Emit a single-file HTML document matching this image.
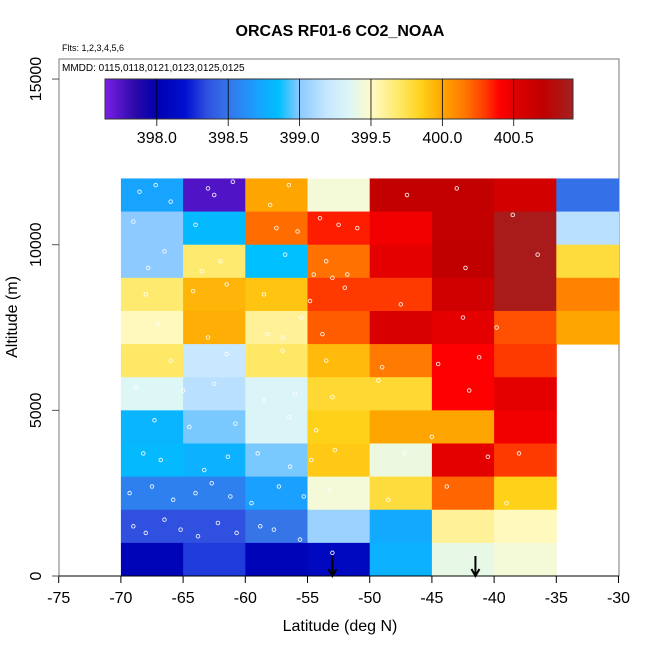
<!DOCTYPE html>
<html><head><meta charset="utf-8"><style>
html,body{margin:0;padding:0;background:#fff;}
svg{display:block;font-family:"Liberation Sans",sans-serif;}
</style></head><body>
<svg id="chart" width="650" height="650" viewBox="0 0 650 650">
<text x="340" y="36" text-anchor="middle" font-size="16" font-weight="bold">ORCAS RF01-6 CO2_NOAA</text>
<text x="62" y="51" font-size="9">Flts: 1,2,3,4,5,6</text>
<rect x="59" y="59" width="560" height="517" fill="none" stroke="#777" stroke-width="1"/>
<text x="62" y="71" font-size="10">MMDD: 0115,0118,0121,0123,0125,0125</text>
<g id="cells"></g>
<g id="points"></g>
<g id="arrows"></g>
<g id="colorbar"></g>
<g id="xaxis"></g>
<g id="yaxis"></g>
<text x="340" y="631" text-anchor="middle" font-size="16">Latitude (deg N)</text>
<text transform="translate(17,317) rotate(-90)" text-anchor="middle" font-size="16">Altitude (m)</text>
</svg>
<script>
const latEdges = [-70,-65,-60,-55,-50,-45,-40,-35,-30];
const altEdgesTop = [12000,11000,10000,9000,8000,7000,6000,5000,4000,3000,2000,1000];
const co2Rows = [
 [398.72,397.75,400.0,399.45,400.68,400.68,400.58,398.48],
 [399.0,398.82,400.18,400.35,400.45,400.68,400.88,399.15],
 [399.0,399.68,398.85,400.17,400.5,400.7,400.88,399.78],
 [399.68,399.95,399.9,400.3,400.3,400.6,400.88,400.12],
 [399.52,399.97,399.6,400.22,400.55,400.5,400.25,400.0],
 [399.7,399.2,399.7,399.93,400.15,400.4,400.3,null],
 [399.35,399.15,399.33,399.8,399.8,400.4,400.5,null],
 [398.8,398.98,399.33,399.85,400.0,400.0,400.45,null],
 [398.82,398.78,398.98,399.88,399.42,400.5,400.3,null],
 [398.55,398.55,398.7,399.45,399.78,400.2,399.85,null],
 [398.35,398.35,398.5,399.05,398.75,399.6,399.52,null],
 [398.05,398.3,398.05,398.1,398.78,399.4,399.45,null]
];
const xTicks = [-75,-70,-65,-60,-55,-50,-45,-40,-35,-30];
const yTicks = [0,5000,10000,15000];
const cbTicks = [398.0,398.5,399.0,399.5,400.0,400.5];
const cbMin = 397.637, cbMax = 400.915;
const arrowLats = [-53,-41.5];
const ptLat = [-68.5,-67.2,-66,-69,-64,-62.5,-61,-63,-58,-56.5,-57.5,-55.8,-54,-52.5,-51,-53.5,-47,-43,-38.5,-66.5,-67.8,-62,-63.5,-56.8,-54.5,-53,-51.8,-42.3,-36.5,-68,-64.2,-61.5,-58.5,-54.8,-52,-47.5,-42.5,-39.8,-67,-63,-58.2,-57,-55.5,-53.8,-66,-61.5,-57,-53.5,-49,-44.5,-41.2,-68.8,-65,-62.5,-58.5,-56,-53,-49.3,-42,-67.3,-64.5,-60.8,-56.5,-54.3,-45,-38,-68.2,-66.8,-63.3,-61.4,-59,-56.4,-54.7,-52.8,-47.2,-40.5,-69.3,-67.5,-65.8,-64,-62.7,-61.2,-59.5,-57.3,-55.3,-53.2,-48.5,-43.8,-39,-69,-68,-66.5,-65.2,-63.8,-62.2,-60.7,-58.8,-57.7,-55.6,-53];
const ptAlt = [11600,11800,11300,10700,10600,11500,11900,11700,11200,11800,10500,10400,10800,10600,10500,9500,11500,11700,10900,9800,9300,9500,9200,9700,9100,9000,9100,9300,9700,8500,8600,8800,8500,8300,8700,8200,7800,7500,7600,7200,7300,7200,7800,7300,6500,6700,6800,6500,6300,6400,6600,5700,5600,5800,5300,5500,5400,5900,5600,4700,4500,4600,4800,4400,4200,3700,3700,3500,3200,3600,3700,3300,3500,3800,3700,3600,2500,2700,2300,2500,2800,2400,2200,2700,2400,2600,2300,2700,2200,1500,1300,1700,1400,1200,1600,1300,1500,1400,1100,700];
const X = v => 58.7 + (v + 75) * 12.44;
const Y = v => 576 - v * 0.03313;
const NS = 'http://www.w3.org/2000/svg';
function mk(tag, attrs, parent){const e=document.createElementNS(NS,tag);for(const k in attrs)e.setAttribute(k,attrs[k]);parent.appendChild(e);return e;}
const palVals = [397.64,397.85,398.0,398.2,398.35,398.5,398.7,398.85,399.0,399.2,399.35,399.5,399.7,399.85,400.0,400.15,400.3,400.4,400.55,400.7,400.91];
const palCols = ['#7a1fe6','#2a0aa8','#0000b0','#0010d0','#3050e0','#3575e8','#1aa0ff','#00bfff','#8ccaff','#c8e8ff','#ddf6f6','#fffbc8','#ffe866','#ffd21a','#ffa500','#ff7a00','#ff3a00','#ff0000','#d80000','#c00000','#a52020'];
function hex(c){return [1,3,5].map(i=>parseInt(c.substr(i,2),16));}
function colorOf(v){
  if(v<=palVals[0])return palCols[0];
  for(let i=1;i<palVals.length;i++){
    if(v<=palVals[i]){const t=(v-palVals[i-1])/(palVals[i]-palVals[i-1]);const a=hex(palCols[i-1]),b=hex(palCols[i]);
      return 'rgb('+a.map((x,j)=>Math.round(x+(b[j]-x)*t)).join(',')+')';}
  }
  return palCols[palCols.length-1];
}
const cells=document.getElementById('cells');
co2Rows.forEach((row,r)=>{row.forEach((v,c)=>{ if(v===null)return;
  const x0=X(latEdges[c]),x1=X(latEdges[c+1]),y0=Y(altEdgesTop[r]),y1=Y(altEdgesTop[r]-1000);
  const el=mk('rect',{x:x0,y:y0,width:x1-x0+0.5,height:y1-y0+0.5,fill:colorOf(v)},cells);
  
  
});});
const pts=document.getElementById('points');
ptLat.forEach((la,i)=>{
  const el=mk('circle',{cx:X(la),cy:Y(ptAlt[i]),r:1.8,fill:'none',stroke:'#fff','stroke-width':0.9,opacity:0.9},pts);
  
  
});
const arr=document.getElementById('arrows');
arrowLats.forEach(la=>{
  const g=mk('g',{stroke:'#000','stroke-width':2,fill:'none'},arr);
  
  
  mk('line',{x1:X(la),y1:556,x2:X(la),y2:576},g);
  mk('polyline',{points:(X(la)-4)+',569 '+X(la)+',576 '+(X(la)+4)+',569'},g);
});
// colorbar
const cb=document.getElementById('colorbar');
const cbX0=105,cbX1=573,cbY0=79,cbY1=119;
const CX=v=>cbX0+(v-cbMin)/(cbMax-cbMin)*(cbX1-cbX0);
const defs=mk('defs',{},cb);
const lg=mk('linearGradient',{id:'cbgrad',x1:0,x2:1,y1:0,y2:0},defs);
palVals.forEach((v,i)=>{mk('stop',{offset:Math.max(0,Math.min(1,(v-cbMin)/(cbMax-cbMin))),'stop-color':palCols[i]},lg);});
const bar=mk('rect',{x:cbX0,y:cbY0,width:cbX1-cbX0,height:cbY1-cbY0,fill:'url(#cbgrad)',stroke:'#333','stroke-width':1},cb);


cbTicks.forEach(t=>{
  mk('line',{x1:CX(t),y1:cbY0,x2:CX(t),y2:cbY1+7,stroke:'#000','stroke-width':0.8},cb);
  const tx=mk('text',{x:CX(t),y:143,'text-anchor':'middle','font-size':16},cb);
  tx.textContent=t.toFixed(1);
  
  
});
// axes
const xa=document.getElementById('xaxis');
mk('line',{x1:52,y1:576,x2:619,y2:576,stroke:'#000','stroke-width':1},xa);
xTicks.forEach(t=>{
  mk('line',{x1:X(t),y1:576,x2:X(t),y2:583,stroke:'#000','stroke-width':1},xa);
  const tx=mk('text',{x:X(t),y:603,'text-anchor':'middle','font-size':16},xa);
  tx.textContent=String(t);
  
  
});
const ya=document.getElementById('yaxis');
yTicks.forEach(t=>{
  mk('line',{x1:52,y1:Y(t),x2:59,y2:Y(t),stroke:'#555','stroke-width':1},ya);
  const tx=mk('text',{transform:'translate(41,'+Y(t)+') rotate(-90)','text-anchor':'middle','font-size':16},ya);
  tx.textContent=String(t);
  
  
});
</script>
</body></html>
